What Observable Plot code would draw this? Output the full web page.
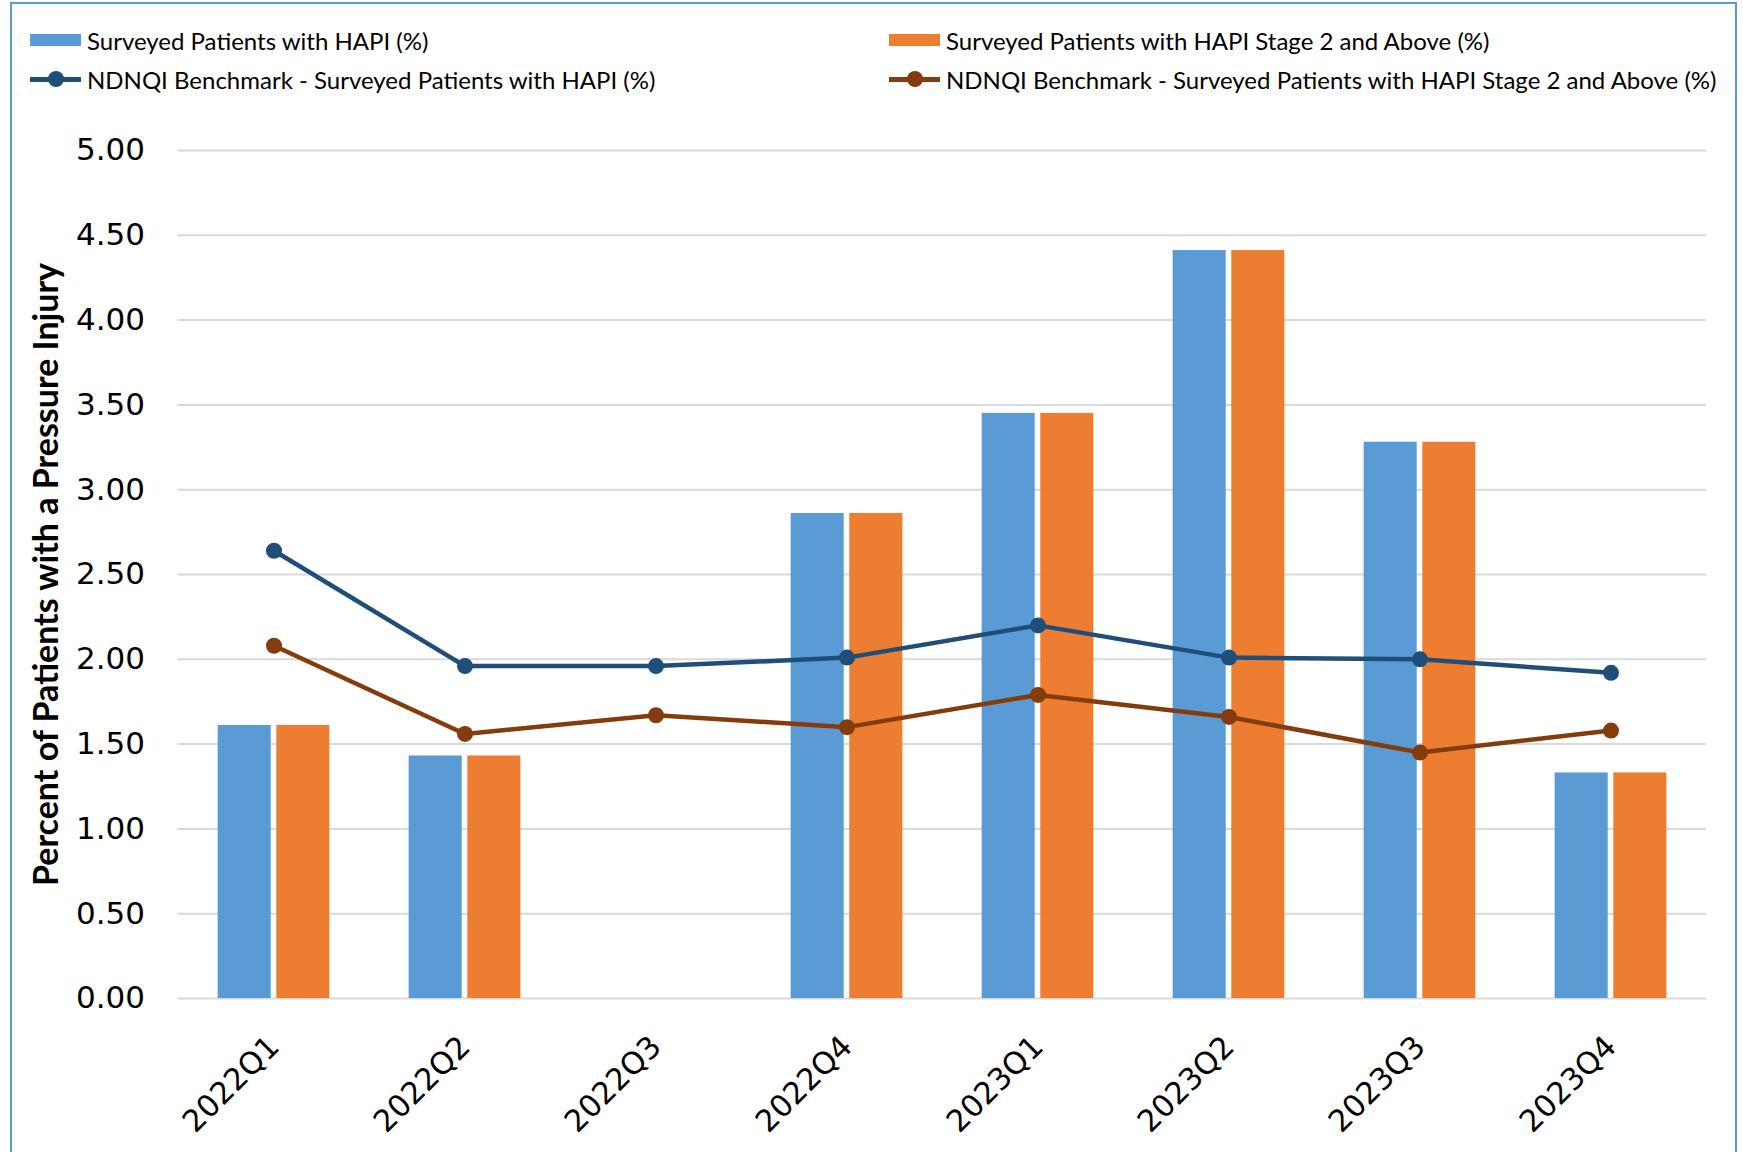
<!DOCTYPE html>
<html>
<head>
<meta charset="utf-8">
<script src="https://cdn.jsdelivr.net/npm/d3@7"></script>
<script src="https://cdn.jsdelivr.net/npm/@observablehq/plot@0.6"></script>
<style>
  body { margin: 0; background: #fff; }
  #wrap { position: relative; width: 1743px; height: 1152px; overflow: hidden; background: #fff; }
  #frame { position: absolute; left: 10px; top: 2px; width: 1727px; height: 1220px; border: 2px solid #5B9BD5; box-sizing: border-box; }
  #legend { position: absolute; left: 0; top: 0; width: 1743px; height: 100px; font-family: Lato, "Open Sans", sans-serif; font-size: 24px; color: #000; }
  .item { position: absolute; height: 26px; display: flex; align-items: center; white-space: nowrap; }
  .sw { width: 51px; height: 12px; margin-right: 6px; }
  .ln { position: relative; width: 51px; height: 12px; margin-right: 6px; }
  .ln .bar { position: absolute; left: 0; top: 3.5px; width: 51px; height: 5px; }
  .ln .pt { position: absolute; left: 18px; top: -2px; width: 16px; height: 16px; border-radius: 50%; }
  #chart { position: absolute; left: 0; top: 100px; }
</style>
</head>
<body>
<div id="wrap">
  <div id="frame"></div>
  <div id="legend"></div>
  <div id="chart"></div>
</div>
<script>
// ---- data ----
const quarters = ["2022Q1", "2022Q2", "2022Q3", "2022Q4", "2023Q1", "2023Q2", "2023Q3", "2023Q4"];
const hapi = [1.61, 1.43, null, 2.86, 3.45, 4.41, 3.28, 1.33];
const hapiStage2 = [1.61, 1.43, null, 2.86, 3.45, 4.41, 3.28, 1.33];
const benchHapi = [2.64, 1.96, 1.96, 2.01, 2.20, 2.01, 2.00, 1.92];
const benchStage2 = [2.08, 1.56, 1.67, 1.60, 1.79, 1.66, 1.45, 1.58];
const yTicks = [0, 0.5, 1, 1.5, 2, 2.5, 3, 3.5, 4, 4.5, 5];
const seriesNames = [
  "Surveyed Patients with HAPI (%)",
  "Surveyed Patients with HAPI Stage 2 and Above (%)",
  "NDNQI Benchmark - Surveyed Patients with HAPI (%)",
  "NDNQI Benchmark - Surveyed Patients with HAPI Stage 2 and Above (%)"
];
const yLabel = "Percent of Patients with a Pressure Injury";

// ---- styles ----
const colors = {bar1: "#5B9BD5", bar2: "#ED7D31", line1: "#1F4E79", line2: "#843C0C"};

// ---- legend ----
const legend = document.getElementById("legend");
const legendItems = [
  {name: seriesNames[0], type: "bar", color: colors.bar1, left: 30, top: 27},
  {name: seriesNames[1], type: "bar", color: colors.bar2, left: 889, top: 27},
  {name: seriesNames[2], type: "line", color: colors.line1, left: 30, top: 66},
  {name: seriesNames[3], type: "line", color: colors.line2, left: 889, top: 66}
];
for (const it of legendItems) {
  const d = document.createElement("div");
  d.className = "item";
  d.style.left = it.left + "px";
  d.style.top = it.top + "px";
  if (it.type === "bar") {
    d.innerHTML = `<span class="sw" style="background:${it.color}"></span><span>${it.name}</span>`;
  } else {
    d.innerHTML = `<span class="ln"><span class="bar" style="background:${it.color}"></span><span class="pt" style="background:${it.color}"></span></span><span>${it.name}</span>`;
  }
  legend.appendChild(d);
}

// ---- chart ----
const rows = quarters.map((q, i) => ({q, hapi: hapi[i], hapi2: hapiStage2[i], b1: benchHapi[i], b2: benchStage2[i]}));
const W = 1743, ML = 177.5, MR = 37;
const step = (W - ML - MR) / quarters.length;
const barW = step * 0.278, gap = step * 0.029;
const groupLeft = (step - (2 * barW + gap)) / 2;

const chart = Plot.plot({
  width: W,
  height: 1052,
  marginTop: 50,
  marginBottom: 154,
  marginLeft: ML,
  marginRight: MR,
  style: {background: "transparent", color: "#000"},
  x: {type: "band", domain: quarters, padding: 0, axis: null},
  y: {domain: [0, 5], axis: null},
  marks: [
    Plot.gridY(yTicks, {stroke: "#D9D9D9", strokeOpacity: 1, strokeWidth: 2}),
    Plot.barY(rows.filter(d => d.hapi != null), {x: "q", y: "hapi", fill: colors.bar1,
      insetLeft: groupLeft, insetRight: step - groupLeft - barW}),
    Plot.barY(rows.filter(d => d.hapi2 != null), {x: "q", y: "hapi2", fill: colors.bar2,
      insetLeft: groupLeft + barW + gap, insetRight: groupLeft}),
    Plot.line(rows, {x: "q", y: "b1", stroke: colors.line1, strokeWidth: 4.5}),
    Plot.dot(rows, {x: "q", y: "b1", fill: colors.line1, r: 8}),
    Plot.line(rows, {x: "q", y: "b2", stroke: colors.line2, strokeWidth: 4.5}),
    Plot.dot(rows, {x: "q", y: "b2", fill: colors.line2, r: 8}),
    Plot.axisY(yTicks, {tickFormat: d3.format(".2f"), tickSize: 0, tickPadding: 33,
      fontSize: 31, fontFamily: "DejaVu Sans", label: null}),
    Plot.axisX({tickRotate: -45, tickSize: 0, tickPadding: 43, fontSize: 30.5,
      fontFamily: "DejaVu Sans", label: null}),
    Plot.text([yLabel], {frameAnchor: "left", rotate: -90, dx: -131, text: d => d,
      fontSize: 34, fontWeight: "bold", fontFamily: "Lato", fill: "#000", textAnchor: "middle", lineAnchor: "middle"})
  ]
});
document.getElementById("chart").appendChild(chart);
</script>
</body>
</html>
